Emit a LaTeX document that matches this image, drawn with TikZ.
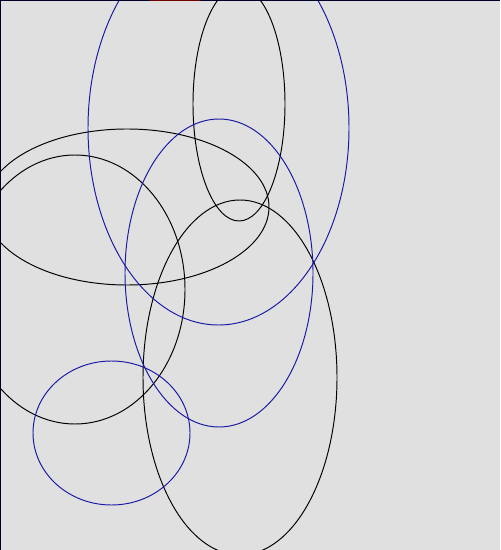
\documentclass[tikz,border=0pt]{standalone}
\usepackage{xcolor}
\definecolor{ringblue}{RGB}{25,25,165}
\definecolor{panelgray}{RGB}{224,224,224}
\usepackage{tikz}

\begin{document}
\begin{tikzpicture}[
  x=0.02cm, y=-0.02cm,
  ring/.style={draw=black, line width=0.55pt},
  bluering/.style={draw=ringblue, line width=0.55pt},
  frame/.style={draw=black!85!blue, line width=1.6pt}
]
  \fill[panelgray] (0,0) rectangle (500,550);
  \useasboundingbox (0,0) rectangle (500,550);

  \begin{scope}
    \clip (0,0) rectangle (500,550);
    % black rings: centre x / centre y / x radius / y radius
    \foreach \cx/\cy/\rx/\ry in {239/104/46/117, 127/207/142/78, 75/289.5/110/134.5, 240/377.5/97/177.5} {
      \draw[ring] (\cx,\cy) ellipse [x radius=\rx, y radius=\ry];
    }
    % blue rings
    \foreach \cx/\cy/\rx/\ry in {218.5/128/130.5/197, 219/273/94/154, 111.5/433/78.5/72} {
      \draw[bluering] (\cx,\cy) ellipse [x radius=\rx, y radius=\ry];
    }
  \end{scope}

  \coordinate (tl) at (0,0);
  \coordinate (tr) at (500,0);
  \coordinate (bl) at (0,550);
  \draw[frame] (tl) -- (tr);
  \draw[frame] (tl) -- (bl);
  \draw[red!45!black, line width=1.6pt] (150,0) -- (200,0);
\end{tikzpicture}
\end{document}
